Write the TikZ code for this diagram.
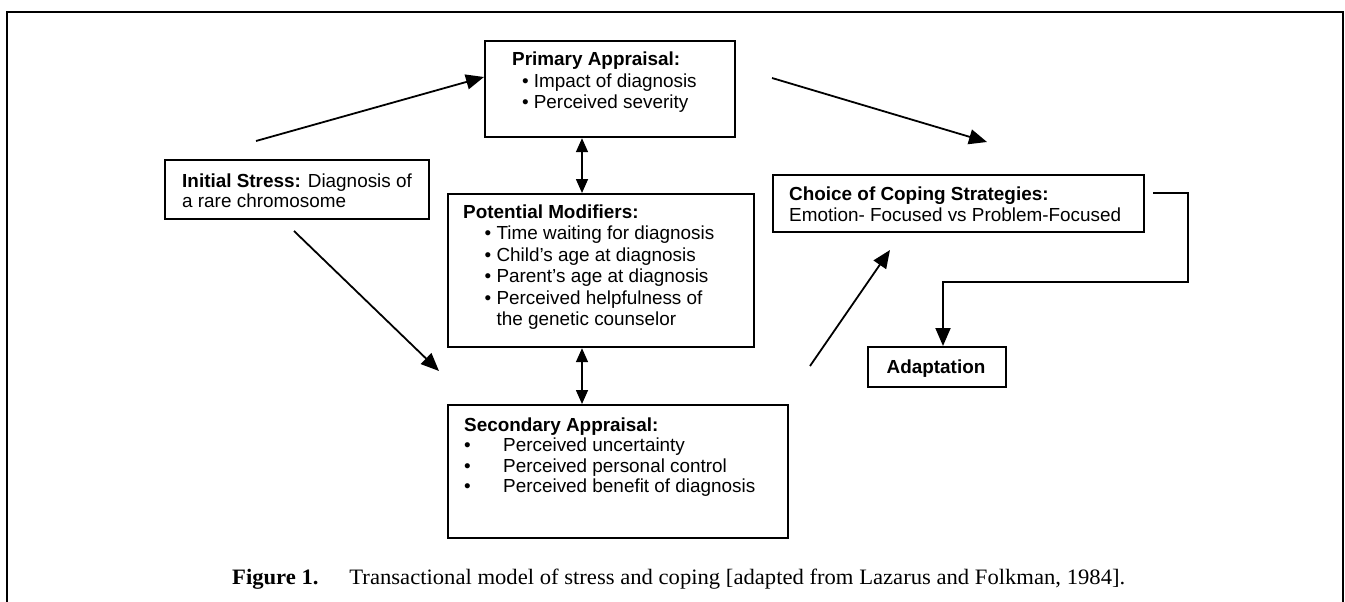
\documentclass[tikz,border=0pt]{standalone}
\usepackage{fontspec}
\setmainfont{Liberation Serif}
\setsansfont{Liberation Sans}
\usetikzlibrary{arrows.meta}
\tikzset{
  boxnode/.style={draw, line width=2.2pt, inner sep=0pt, anchor=north west},
  txt/.style={anchor=base west, inner sep=0pt, align=left},
  conn/.style={line width=1.8pt, -{Triangle[length=18pt,width=15pt]}},
  dbl/.style={line width=1.6pt, {Triangle[length=14pt,width=12pt]}-{Triangle[length=14pt,width=12pt]}},
  frameline/.style={line width=2.4pt},
}
\newcommand{\sz}[1]{\sffamily\fontsize{18.9}{#1}\selectfont}
\begin{document}
\begin{tikzpicture}[x=1pt,y=-1pt]
\useasboundingbox (0,0) rectangle (1345,602);
\draw[frameline] (7,602) -- (7,12) -- (1343,12) -- (1343,602);

% boxes
\node[boxnode, minimum width=264pt, minimum height=59pt] (is) at (164,159) {};
\node[boxnode, minimum width=250pt, minimum height=96pt] (pa) at (484,40) {};
\node[boxnode, minimum width=306pt, minimum height=153pt] (pm) at (447,193) {};
\node[boxnode, minimum width=340pt, minimum height=133pt] (sa) at (447,404) {};
\node[boxnode, minimum width=371pt, minimum height=57pt] (cc) at (772,174) {};
\node[boxnode, minimum width=138pt, minimum height=40pt] (ad) at (867,346) {};

% texts
\node[txt, font=\sz{20}] (istxt) at (182,187) {\begin{tabular}[t]{@{}l@{}}\textbf{Initial Stress:} Diagnosis of\\a rare chromosome\end{tabular}};
\node[txt, font=\sz{21.5}] (patxt) at (512,66) {\begin{tabular}[t]{@{}l@{}}\textbf{Primary Appraisal:}\\
\hspace*{9.8pt}• Impact of diagnosis\\
\hspace*{9.8pt}• Perceived severity\end{tabular}};
\node[txt, font=\sz{21.6}] (pmtxt) at (463,218) {\begin{tabular}[t]{@{}l@{}}\textbf{Potential Modifiers:}\\
\hspace*{21.5pt}• Time waiting for diagnosis\\
\hspace*{21.5pt}• Child’s age at diagnosis\\
\hspace*{21.5pt}• Parent’s age at diagnosis\\
\hspace*{21.5pt}• Perceived helpfulness of\\
\hspace*{21.5pt}\phantom{•\ }the genetic counselor\end{tabular}};
\node[txt, font=\sz{20.5}] (satxt) at (464,431) {\begin{tabular}[t]{@{}l@{}}\textbf{Secondary Appraisal:}\\
\makebox[39pt][l]{•}Perceived uncertainty\\
\makebox[39pt][l]{•}Perceived personal control\\
\makebox[39pt][l]{•}Perceived benefit of diagnosis\end{tabular}};
\node[txt, font=\sz{21}] (cctxt) at (789,200) {\begin{tabular}[t]{@{}l@{}}\textbf{Choice of Coping Strategies:}\\
Emotion- Focused vs Problem-Focused\end{tabular}};
\node[anchor=base, inner sep=0pt, font=\sz{20}\bfseries] (adtxt) at (936,373) {Adaptation};

% caption
\node[anchor=base west, inner sep=0pt] (cap) at (232,584) {\resizebox{893pt}{\height}{\fontsize{22}{26}\selectfont\textbf{Figure 1.}\hspace{30pt}Transactional model of stress and coping [adapted from Lazarus and Folkman, 1984].}};

% connector coordinates
\coordinate (a1s) at (256,141);
\coordinate (a1e) at (484,77);
\coordinate (a2s) at (294,231);
\coordinate (a2e) at (439,371);
\coordinate (a3s) at (772,78);
\coordinate (a3e) at (987,142);
\coordinate (a4s) at (810,366);
\coordinate (a4e) at (890,250);
\coordinate (dx) at (582,0);
\coordinate (el0) at (1153,193);
\coordinate (el1) at (1188,193);
\coordinate (el2) at (1188,282);
\coordinate (el3) at (943,282);

\draw[conn] (a1s) -- (a1e);
\draw[conn] (a2s) -- (a2e);
\draw[conn] (a3s) -- (a3e);
\draw[conn] (a4s) -- (a4e);
\draw[dbl] (pa.south -| dx) -- (pm.north -| dx);
\draw[dbl] (pm.south -| dx) -- (sa.north -| dx);
\draw[conn, line width=1.9pt] (el0) -- (el1) -- (el2) -- (el3) -- (ad.north -| el3);
\end{tikzpicture}
\end{document}
